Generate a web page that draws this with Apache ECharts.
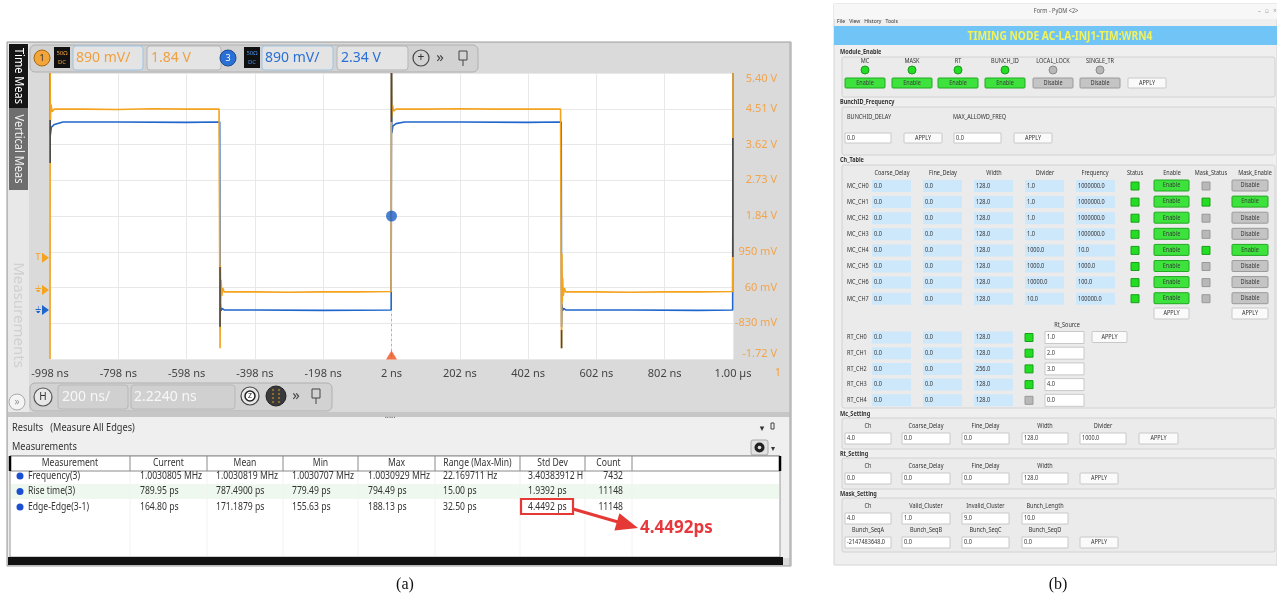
<!DOCTYPE html>
<html><head><meta charset="utf-8">
<script src="https://cdn.jsdelivr.net/npm/echarts/dist/echarts.min.js"></script>
<style>html,body{margin:0;padding:0;background:#fff}#c{width:1277px;height:598px}</style>
</head><body><div id="c"></div>
<script>
// ================= DATA =================
// Oscilloscope axis tick labels
const xTickLabels = ['-998 ns','-798 ns','-598 ns','-398 ns','-198 ns','2 ns','202 ns','402 ns','602 ns','802 ns','1.00 µs'];
const yTickLabels = ['-1.72 V','-830 mV','60 mV','950 mV','1.84 V','2.73 V','3.62 V','4.51 V','5.40 V'];
const timeFirstTickNs = -998, timePerDivNs = 200;
const voltBottom = -1.72, voltPerDiv = 0.89;

// Channel 1 (orange) trace: time (ns) / displayed volts
const ch1Time = [-998,-997.5,-997,-995,-992,-985,-900,-800,-700,-600,-503,-501,-500,-499,-498,-497,-495,-492,-488,-400,-300,-200,-100,1,2,3,5,8,15,100,200,300,400,497,499,500,501,502,503,505,508,512,600,700,800,900,1001,1002];
const ch1Volt = [-1.72,5.40,4.20,4.62,4.44,4.50,4.50,4.49,4.51,4.50,4.50,4.48,-1.45,0.60,-0.40,0.25,-0.15,0.05,-0.05,-0.05,-0.06,-0.05,-0.05,-0.04,5.40,4.30,4.60,4.45,4.50,4.50,4.51,4.50,4.50,4.50,4.48,-1.45,0.90,-0.30,0.30,-0.15,0.05,-0.05,-0.05,-0.06,-0.05,-0.05,-0.04,5.40];
// Channel 3 (blue) trace
const ch3Time = [-998,-997,-994,-985,-960,-800,-600,-501,-500,-499,-497,-494,-488,-400,-200,1,2,3,6,15,40,200,400,499,500,501,503,506,512,700,900,1001,1002];
const ch3Volt = [5.40,3.85,4.05,4.12,4.18,4.18,4.17,4.18,-0.92,-0.35,-0.52,-0.46,-0.50,-0.50,-0.51,-0.50,5.40,3.90,4.08,4.14,4.18,4.18,4.17,4.18,-0.92,-0.35,-0.52,-0.46,-0.50,-0.50,-0.51,-0.50,5.40];
// dark persistence segments at the edges: time, upper volt, lower volt
const edgeTime = [-997.5,-500,2,500,1001.5];
const edgeVoltHi = [4.23,0.57,5.40,-1.00,3.78];
const edgeVoltLo = [3.16,-0.92,4.18,-1.45,0.82];
const triggerPoint = [2, 1.84];
const ch1TriggerLevel = 0.80, ch1Ground = 0.0, ch3Ground = -0.50;

// Measurement results table
const measHeaders = ['Measurement','Current','Mean','Min','Max','Range (Max-Min)','Std Dev','Count'];
const measNames = ['Frequency(3)','Rise time(3)','Edge-Edge(3-1)'];
const measCurrent = ['1.0030805 MHz','789.95 ps','164.80 ps'];
const measMean = ['1.0030819 MHz','787.4900 ps','171.1879 ps'];
const measMin = ['1.0030707 MHz','779.49 ps','155.63 ps'];
const measMax = ['1.0030929 MHz','794.49 ps','188.13 ps'];
const measRange = ['22.169711 Hz','15.00 ps','32.50 ps'];
const measStd = ['3.40383912 H','1.9392 ps','4.4492 ps'];
const measCount = ['7432','11148','11148'];
const calloutText = '4.4492ps';

// PyDM form
const moduleNames = ['MC','MASK','RT','BUNCH_ID','LOCAL_LOCK','SINGLE_TR'];
const moduleOn = [1,1,1,1,0,0];
const chHeaders = ['Coarse_Delay','Fine_Delay','Width','Divider','Frequency','Status','Enable','Mask_Status','Mask_Enable'];
const mcNames = ['MC_CH0','MC_CH1','MC_CH2','MC_CH3','MC_CH4','MC_CH5','MC_CH6','MC_CH7'];
const mcCoarse = ['0.0','0.0','0.0','0.0','0.0','0.0','0.0','0.0'];
const mcFine = ['0.0','0.0','0.0','0.0','0.0','0.0','0.0','0.0'];
const mcWidth = ['128.0','128.0','128.0','128.0','128.0','128.0','128.0','128.0'];
const mcDivider = ['1.0','1.0','1.0','1.0','1000.0','1000.0','10000.0','10.0'];
const mcFreq = ['1000000.0','1000000.0','1000000.0','1000000.0','10.0','1000.0','100.0','100000.0'];
const mcStatus = [1,1,1,1,1,1,1,1];
const mcEnable = [1,1,1,1,1,1,1,1];
const mcMaskStatus = [0,1,0,0,1,0,0,0];
const mcMaskEnable = [0,1,0,0,1,0,0,0];
const rtNames = ['RT_CH0','RT_CH1','RT_CH2','RT_CH3','RT_CH4'];
const rtCoarse = ['0.0','0.0','0.0','0.0','0.0'];
const rtFine = ['0.0','0.0','0.0','0.0','0.0'];
const rtWidth = ['128.0','128.0','256.0','128.0','128.0'];
const rtStatus = [1,1,1,1,0];
const rtSource = ['1.0','2.0','3.0','4.0','0.0'];
const mcSetHeaders = ['Ch','Coarse_Delay','Fine_Delay','Width','Divider'];
const mcSetValues = ['4.0','0.0','0.0','128.0','1000.0'];
const rtSetHeaders = ['Ch','Coarse_Delay','Fine_Delay','Width'];
const rtSetValues = ['0.0','0.0','0.0','128.0'];
const maskHeadersA = ['Ch','Valid_Cluster','Invalid_Cluster','Bunch_Length'];
const maskValuesA = ['4.0','1.0','9.0','10.0'];
const maskHeadersB = ['Bunch_SeqA','Bunch_SeqB','Bunch_SeqC','Bunch_SeqD'];
const maskValuesB = ['-2147483648.0','0.0','0.0','0.0'];

// ================= DRAWING =================
const PI = Math.PI;
const FONT = '"Noto Sans","DejaVu Sans",sans-serif';
const G = [];
function R(x,y,w,h,fill,stroke,r,lw,z){G.push({type:'rect',z:z==null?-5:z,silent:true,shape:{x:x,y:y,width:w,height:h,r:r||0},style:{fill:fill||'none',stroke:stroke||'none',lineWidth:lw||1}});}
function C(cx,cy,r,fill,stroke,lw,z){G.push({type:'circle',z:z==null?-5:z,silent:true,shape:{cx:cx,cy:cy,r:r},style:{fill:fill||'none',stroke:stroke||'none',lineWidth:lw||1}});}
function L(x1,y1,x2,y2,stroke,lw,z,dash){G.push({type:'line',z:z==null?-5:z,silent:true,shape:{x1:x1,y1:y1,x2:x2,y2:y2},style:{stroke:stroke,lineWidth:lw||1,lineDash:dash||null}});}
function P(pts,fill,z){G.push({type:'polygon',z:z==null?-5:z,silent:true,shape:{points:pts},style:{fill:fill}});}
function T(x,y,text,o){o=o||{};G.push({type:'text',z:o.z==null?-4:o.z,silent:true,x:x,y:y,rotation:o.rot||0,scaleX:o.sx||1,
  style:{text:text,fill:o.c||'#222',font:(o.b?'bold ':'')+(o.s||11)+'px '+(o.f||FONT),align:o.a||'left',verticalAlign:'middle',textAlign:o.a||'left',textVerticalAlign:'middle'}});}

// ---------- panel (a) chrome ----------
R(7,42,784,524,'#dadada','#9a9a9a');
R(8,43,21,372,'#e8e8e8');
R(9,44,19,64,'#151515'); T(18.5,76,'Time Meas',{rot:-PI/2,a:'center',c:'#fff',s:12,sx:0.92});
R(9,108,19,82,'#6e6e6e'); T(18.5,149,'Vertical Meas',{rot:-PI/2,a:'center',c:'#f2f2f2',s:12,sx:0.92});
T(18.5,315,'Measurements',{rot:-PI/2,a:'center',c:'#d0d0d0',s:15});
C(17,402,8,'#f4f4f4','#aaa'); T(17,402,'»',{a:'center',c:'#999',s:10});

// top toolbar
R(30,45,448,27,'#d2d2d2','#b0b0b0',5);
C(42,58,8,'#f2a53a','#a86a10'); T(42,58,'1',{a:'center',s:9,c:'#333'});
R(54,47,16,21,'#111'); T(62,53,'50Ω',{a:'center',s:6,c:'#f0a040'}); T(62,62,'DC',{a:'center',s:6,c:'#f0a040'});
R(73,46,70,24,'#e4e4e4','#9fc4e2',3); T(76,58,'890 mV/',{s:14,c:'#f0a040'});
R(147,46,74,24,'#e4e4e4','#b5b5b5',3); T(151,58,'1.84 V',{s:14,c:'#f0a040'});
C(228,58,8,'#2a6fd6','#1a4a90'); T(228,58,'3',{a:'center',s:9,c:'#fff'});
R(244,47,16,21,'#111'); T(252,53,'50Ω',{a:'center',s:6,c:'#4a8fe6'}); T(252,62,'DC',{a:'center',s:6,c:'#4a8fe6'});
R(262,46,71,24,'#e4e4e4','#9fc4e2',3); T(265,58,'890 mV/',{s:14,c:'#2a6fd6'});
R(337,46,71,24,'#e4e4e4','#b5b5b5',3); T(341,58,'2.34 V',{s:14,c:'#2a6fd6'});
C(421,58,8,'none','#444',1.2); T(421,58,'+',{a:'center',s:12,c:'#333'});
T(440,58,'»',{a:'center',s:15,c:'#444'});
R(459,51,8,9,'none','#444'); L(463,60,463,66,'#444');

T(778,373,'1',{a:'center',s:11,c:'#f0a040'});

// bottom toolbar
R(30,383,302,28,'#d2d2d2','#b0b0b0',5);
C(43,397,9,'#e8e8e8','#555',1.2); T(43,397,'H',{a:'center',s:10,c:'#333'});
R(58,385,70,24,'#d0d0d0','#b8b8b8',3); T(62,397,'200 ns/',{s:14,c:'#f7f7f7'});
R(131,385,104,24,'#d0d0d0','#b8b8b8',3); T(134,397,'2.2240 ns',{s:14,c:'#f7f7f7'});
C(250,396,9,'#e8e8e8','#444',1.2); C(250,396,5,'#fff','#222',1.5); T(250,396,'Z',{a:'center',s:7,c:'#222'});
C(276,396,10,'#3a3a3a','#222'); L(273,389,273,403,'#d9a030',1,-4,[2,2]); L(279,389,279,403,'#d9a030',1,-4,[2,2]);
T(296,396,'»',{a:'center',s:15,c:'#444'});
R(312,389,8,9,'none','#444'); L(316,398,316,404,'#444');

// divider + results panel
R(8,412,782,5,'#c6c6c6');
T(390,416,'.....',{a:'center',s:8,c:'#444'});
R(8,417,782,141,'#efefef');
T(12,428,'Results   (Measure All Edges)',{s:10,c:'#333',sx:0.92});
T(762,428,'▾',{a:'center',s:9,c:'#333'}); R(771,423,3,6,'none','#444');
T(12,447,'Measurements',{s:10,c:'#333',sx:0.92});
R(751,440,17,15,'#e2e2e2','#aaa',2); C(759.5,447.5,5,'#222'); C(759.5,447.5,1.8,'#e2e2e2'); T(773,449,'▾',{a:'center',s:8,c:'#333'});

// table
const colBounds = [10,130,207,283,358,435,520,585,632,780];
const tsx = 0.86;
R(10,456,770,101,'#fff','#9a9a9a');
R(11,484,768,15,'#eef8ee');
for (let i=1;i<colBounds.length-1;i++) L(colBounds[i],471,colBounds[i],556,'#f2f2f2');
R(10,456,770,15,'#fff','#8a8a8a');
for (let i=1;i<colBounds.length-1;i++) L(colBounds[i],456,colBounds[i],471,'#8a8a8a');
L(10,456,10,471,'#000',2.5); L(780,456,780,471,'#000',2.5);
measHeaders.forEach((h,i)=>T((colBounds[i]+colBounds[i+1])/2,463.5,h,{a:'center',s:10,c:'#333',sx:tsx}));
const rowY = [476,491.5,507];
const cols = [measCurrent,measMean,measMin,measMax,measRange,measStd];
const colTextX = [140,216,292,368,443,528];
measNames.forEach((n,r)=>{
  C(20,rowY[r],3.5,'#1b4fd1');
  T(28,rowY[r],n,{s:10,c:'#333',sx:tsx});
  cols.forEach((arr,k)=>T(colTextX[k],rowY[r],arr[r],{s:10,c:'#333',sx:tsx}));
  T(623,rowY[r],measCount[r],{a:'right',s:10,c:'#333',sx:tsx});
});
R(8,557,775,8,'#111');
L(790,42,790,566,'#b8b8b8',1.5);

// callout
R(521,499,52,15,'none','#e53935',0,2.2,3);
L(573,509,618,522,'#e53935',3,3);
P([[638,528],[614.4,530.4],[619.4,513.2]],'#e53935',3);
T(640,528,calloutText,{b:true,s:17,c:'#e8383d',z:3});

// captions
T(405,585,'(a)',{a:'center',s:16,f:'"Liberation Serif",serif',c:'#111'});
T(1058,585,'(b)',{a:'center',s:16,f:'"Liberation Serif",serif',c:'#111'});

// ---------- panel (b) PyDM form ----------
const fs = 6.5, sx = 0.85, txt='#333';
function lbl(x,y,t,o){o=o||{};T(x,y,t,Object.assign({s:fs,c:txt,sx:sx},o));}
function inp(x,y,w,h,v,fill){R(x,y,w,h,fill||'#fff',fill?'none':'#c8c8c8');lbl(x+2,y+h/2,v);}
function btn(x,y,w,h,t,kind){
  const f = kind==='on'?'#3de23d':(kind==='off'?'#c4c4c4':'#fafafa');
  const s = kind==='on'?'#23a823':(kind==='off'?'#9a9a9a':'#c8c8c8');
  R(x,y,w,h,f,s,1); lbl(x+w/2,y+h/2,t,{a:'center',c:kind==='apply'?'#333':'#3a3a3a'});
}
function sq(x,y,on){R(x,y-4,8,8,on?'#22dd22':'#b8b8b8',on?'#19a019':'#999');}
function group(y,h){R(842,y,433,h,'#ebebeb','#d2d2d2',2);}

R(834,4,443,561,'#efefef','#d4d4d4');
R(834,4,443,15,'#f7f7f7');
lbl(1056,11,'Form - PyDM <2>',{a:'center',c:'#555'});
lbl(1258,11,'–   ▫   ×',{c:'#999'});
lbl(837,21,'File   View   History   Tools',{c:'#333',s:6});
R(834,26,443,19,'#70c5f6');
T(1060,36,'TIMING NODE AC-LA-INJ1-TIM:WRN4',{a:'center',b:true,s:12.5,c:'#f2f25a',sx:0.82});

// Module_Enable
lbl(840,52,'Module_Enable',{b:true});
group(57,40);
const modX = [845,892,938,985,1033,1080];
moduleNames.forEach((n,i)=>{
  const cx = modX[i]+20;
  lbl(cx,61,n,{a:'center'});
  C(cx,70,4,moduleOn[i]?'#22dd22':'#b8b8b8',moduleOn[i]?'#1a9a1a':'#8a8a8a');
  btn(modX[i],78,40,10,moduleOn[i]?'Enable':'Disable',moduleOn[i]?'on':'off');
});
btn(1128,78,38,10,'APPLY','apply');

// BunchID_Frequency
lbl(840,102,'BunchID_Frequency',{b:true});
group(107,48);
lbl(847,117,'BUNCHID_DELAY'); lbl(953,117,'MAX_ALLOWD_FREQ');
inp(845,133,46,10,'0.0'); btn(904,133,38,10,'APPLY','apply');
inp(954,133,47,10,'0.0'); btn(1014,133,38,10,'APPLY','apply');

// Ch_Table
lbl(840,160,'Ch_Table',{b:true});
group(165,243);
const hdrX = [892,943,994,1045,1095,1135,1172,1211,1255];
chHeaders.forEach((h,i)=>lbl(hdrX[i],173,h,{a:'center'}));
const cellX = [872,923,974,1025,1076];
mcNames.forEach((n,r)=>{
  const y = 186 + r*16.1;
  lbl(847,y,n);
  [mcCoarse,mcFine,mcWidth,mcDivider,mcFreq].forEach((arr,k)=>inp(cellX[k],y-6,39,12,arr[r],'#cde7fb'));
  sq(1131,y,mcStatus[r]);
  btn(1154,y-6,35,11,mcEnable[r]?'Enable':'Disable',mcEnable[r]?'on':'off');
  sq(1202,y,mcMaskStatus[r]);
  btn(1232,y-6,36,11,mcMaskEnable[r]?'Enable':'Disable',mcMaskEnable[r]?'on':'off');
});
btn(1154,308,35,11,'APPLY','apply'); btn(1232,308,36,11,'APPLY','apply');
lbl(1067,325,'Rt_Source',{a:'center'});
rtNames.forEach((n,r)=>{
  const y = 337.5 + r*15.7;
  lbl(847,y,n);
  [rtCoarse,rtFine,rtWidth].forEach((arr,k)=>inp(cellX[k],y-6,39,12,arr[r],'#cde7fb'));
  sq(1025,y,rtStatus[r]);
  inp(1045,y-6,39,12,rtSource[r]);
});
btn(1092,331.5,35,11,'APPLY','apply');

// settings groups
const setX = [845,902,962,1022,1080], setW = [46,48,47,46,46];
function headersRow(hs,y){hs.forEach((h,i)=>lbl(setX[i]+setW[i]/2,y,h,{a:'center'}));}
function valuesRow(vs,y){vs.forEach((v,i)=>inp(setX[i],y,setW[i],11,v));}
lbl(840,414,'Mc_Setting',{b:true});
group(418,31);
headersRow(mcSetHeaders,426); valuesRow(mcSetValues,433); btn(1139,433,39,11,'APPLY','apply');
lbl(840,454,'Rt_Setting',{b:true});
group(458,31);
headersRow(rtSetHeaders,466); valuesRow(rtSetValues,473); btn(1080,473,38,11,'APPLY','apply');
lbl(840,494,'Mask_Setting',{b:true});
group(498,54);
headersRow(maskHeadersA,506); valuesRow(maskValuesA,513);
headersRow(maskHeadersB,530); valuesRow(maskValuesB,537); btn(1080,537,38,11,'APPLY','apply');

// ================= CHART =================
const toPt = (t,v)=>[t-timeFirstTickNs, (v-voltBottom)/voltPerDiv];
const ch1Data = ch1Time.map((t,i)=>toPt(t,ch1Volt[i]));
const ch3Data = ch3Time.map((t,i)=>toPt(t,ch3Volt[i]));
const edgeData = [];
edgeTime.forEach((t,i)=>{ edgeData.push(toPt(t,edgeVoltHi[i]), toPt(t,edgeVoltLo[i]), '-'); });

const chart = echarts.init(document.getElementById('c'),null,{renderer:'canvas',width:1277,height:598});
const option = {
  animation:false,
  backgroundColor:'#fff',
  grid:{left:50,top:73,width:683,height:286,show:true,backgroundColor:'#fff',borderWidth:0},
  xAxis:{type:'value',min:0,max:timePerDivNs*(xTickLabels.length-1),interval:timePerDivNs,
    axisLine:{show:false},axisTick:{show:false},
    splitLine:{show:true,lineStyle:{color:'#e8e8e8',width:1}},
    axisLabel:{color:'#444',fontSize:11,fontFamily:FONT,margin:9,formatter:v=>xTickLabels[Math.round(v/timePerDivNs)]}},
  yAxis:{type:'value',position:'right',min:0,max:yTickLabels.length-1,interval:1,
    axisLine:{show:false},axisTick:{show:false},
    splitLine:{show:true,lineStyle:{color:'#e8e8e8',width:1}},
    axisLabel:{color:'#f2a44c',fontSize:11,fontFamily:FONT,align:'right',margin:44,
      verticalAlignMaxLabel:'top',verticalAlignMinLabel:'bottom',
      formatter:v=>yTickLabels[Math.round(v)]}},
  series:[
    {name:'CH3',type:'line',data:ch3Data,symbol:'none',lineStyle:{color:'#1f66cc',width:1.6},z:3},
    {name:'CH1',type:'line',data:ch1Data,symbol:'none',lineStyle:{color:'#f5a21c',width:1.6},z:4},
    {name:'edges',type:'line',data:edgeData,symbol:'none',connectNulls:false,lineStyle:{color:'#4a4a4a',width:1.6},z:5},
    {name:'trigger-line',type:'line',data:[toPt(triggerPoint[0],ch3Ground-0.1),toPt(triggerPoint[0],voltBottom)],symbol:'none',lineStyle:{color:'#b0b0b0',width:1,type:[2,3]},z:2},
    {name:'trigger',type:'scatter',data:[toPt(triggerPoint[0],triggerPoint[1])],symbolSize:11,itemStyle:{color:'#1e5fc4'},z:6},
    {name:'trigger-pos',type:'scatter',data:[toPt(triggerPoint[0],voltBottom)],symbol:'triangle',symbolSize:[11,9],symbolOffset:[0,-4],itemStyle:{color:'#f0501a'},z:6}
  ],
  graphic:{elements:G}
};
chart.setOption(option);

// left channel markers positioned through the chart's own scales
const py = v=>chart.convertToPixel({gridIndex:0},toPt(timeFirstTickNs,v))[1];
const extra = [];
function arrowMark(y,color,label){
  extra.push({type:'polygon',z:5,silent:true,shape:{points:[[49,y],[42,y-5],[42,y+5]]},style:{fill:color}});
  extra.push({type:'text',z:5,silent:true,x:38,y:y,style:{text:label,fill:color,font:'9px '+FONT,align:'center',verticalAlign:'middle',textAlign:'center',textVerticalAlign:'middle'}});
}
arrowMark(py(ch1TriggerLevel),'#f5a21c','T');
arrowMark(py(ch1Ground),'#f5a21c','⏚');
arrowMark(py(ch3Ground),'#1f66cc','⏚');
chart.setOption({graphic:{elements:G.concat(extra)}});
</script></body></html>
